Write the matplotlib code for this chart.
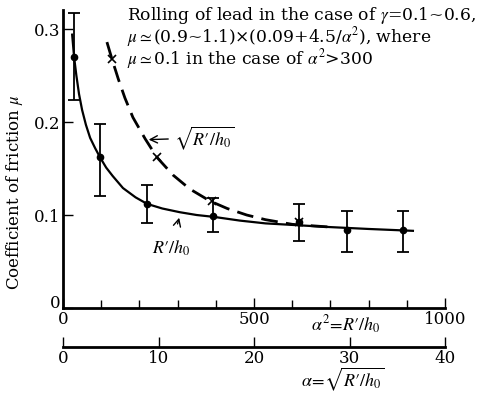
import matplotlib.pyplot as plt

plt.rcParams['font.family'] = ['DejaVu Serif']
plt.rcParams['mathtext.fontset'] = 'stix'

# measured points (alpha^2 = R'/h0, mu) with error bar limits
pt_x = [29, 97, 220, 393, 618, 743, 890]
pt_y = [0.270, 0.162, 0.112, 0.099, 0.0925, 0.084, 0.084]
err_hi = [0.317, 0.198, 0.132, 0.118, 0.112, 0.104, 0.104]
err_lo = [0.224, 0.120, 0.091, 0.082, 0.072, 0.060, 0.060]

# solid curve, R'/h0
solid_x = [24, 29, 35, 42, 50, 60, 71, 84, 97, 113, 130, 157, 190, 220, 260,
           306, 350, 395, 463, 530, 615, 700, 800, 916]
solid_y = [0.294, 0.270, 0.250, 0.230, 0.213, 0.197, 0.183, 0.172, 0.162,
           0.151, 0.142, 0.129, 0.119, 0.112, 0.107, 0.103, 0.100, 0.098,
           0.094, 0.091, 0.089, 0.087, 0.085, 0.083]

# dashed curve, sqrt(R'/h0)
dash_x = [115, 128, 145, 162, 183, 215, 246, 288, 332, 385, 430, 481, 530,
          600, 700]
dash_y = [0.286, 0.268, 0.246, 0.226, 0.205, 0.182, 0.162, 0.143, 0.128,
          0.115, 0.107, 0.100, 0.095, 0.090, 0.087]
cross_x = [128, 246, 390, 618]
cross_y = [0.268, 0.162, 0.115, 0.093]

note_lines = ['Rolling of lead in the case of $\\gamma$=0.1~0.6,',
              '$\\mu\\simeq$(0.9~1.1)\u00d7(0.09+4.5/$\\alpha^2$), where',
              '$\\mu\\simeq$0.1 in the case of $\\alpha^2$>300']
note_y = [0.3100, 0.2855, 0.2618]

fig = plt.figure(figsize=(5, 3.93), dpi=100)
ax = fig.add_axes([0.126, 0.2163, 0.764, 0.758])

ax.plot(solid_x, solid_y, color='black', lw=1.6)
ax.plot(dash_x, dash_y, color='black', lw=2, dashes=(6, 3))
ax.plot(cross_x, cross_y, 'x', color='black', ms=6, mew=1.2)
yerr = [[y - lo for y, lo in zip(pt_y, err_lo)],
        [hi - y for y, hi in zip(pt_y, err_hi)]]
ax.errorbar(pt_x, pt_y, yerr=yerr, fmt='o', color='black', ms=4.5,
            elinewidth=1.3, capsize=4.5, capthick=1.3)

ax.set_xlim(0, 1000)
ax.set_ylim(0, 0.3204)
for s in ['top', 'right']:
    ax.spines[s].set_visible(False)
for s in ['left', 'bottom']:
    ax.spines[s].set_linewidth(2)
ax.set_xticks([0, 500, 1000])
ax.set_xticks(range(100, 1000, 100), minor=True)
ax.set_yticks([0, 0.1, 0.2, 0.3])
ax.set_yticklabels(['0', '0.1', '0.2', '0.3'])
ax.get_yticklabels()[0].set_va('baseline')
ax.tick_params(direction='in', length=7, width=1, labelsize=12, pad=2)
ax.tick_params(which='minor', direction='in', length=6, width=1)
ax.set_ylabel(r'Coefficient of friction $\mu$', fontsize=12)
ax.yaxis.set_label_coords(-0.1, 0.39)

ax.text(741, -0.077, r"$\alpha^2\!=\!R\prime/h_0$", transform=ax.get_xaxis_transform(),
        ha='center', va='baseline', fontsize=13)

sec = ax.secondary_xaxis(-0.131, functions=(lambda x: x / 25, lambda x: x * 25))
sec.set_xticks([0, 10, 20, 30, 40])
sec.spines['bottom'].set_linewidth(2)
sec.tick_params(direction='in', length=7, width=1, labelsize=12, pad=2)
ax.text(733, -0.262, r"$\alpha\!=\!\sqrt{R\prime/h_0}$", transform=ax.get_xaxis_transform(),
        ha='center', va='baseline', fontsize=13)

for line, y in zip(note_lines, note_y):
    ax.text(168, y, line, ha='left', va='baseline', fontsize=12.3)

ax.annotate(r"$\sqrt{R\prime/h_0}$", xy=(217, 0.181), xytext=(290, 0.183),
            fontsize=13, va='center',
            arrowprops=dict(arrowstyle='->', color='black', lw=1))
ax.annotate(r"$R\prime/h_0$", xy=(306, 0.100), xytext=(283, 0.064),
            fontsize=13, ha='center', va='center',
            arrowprops=dict(arrowstyle='->', color='black', lw=1,
                            shrinkA=9))

fig.savefig('out.png', dpi=100)
